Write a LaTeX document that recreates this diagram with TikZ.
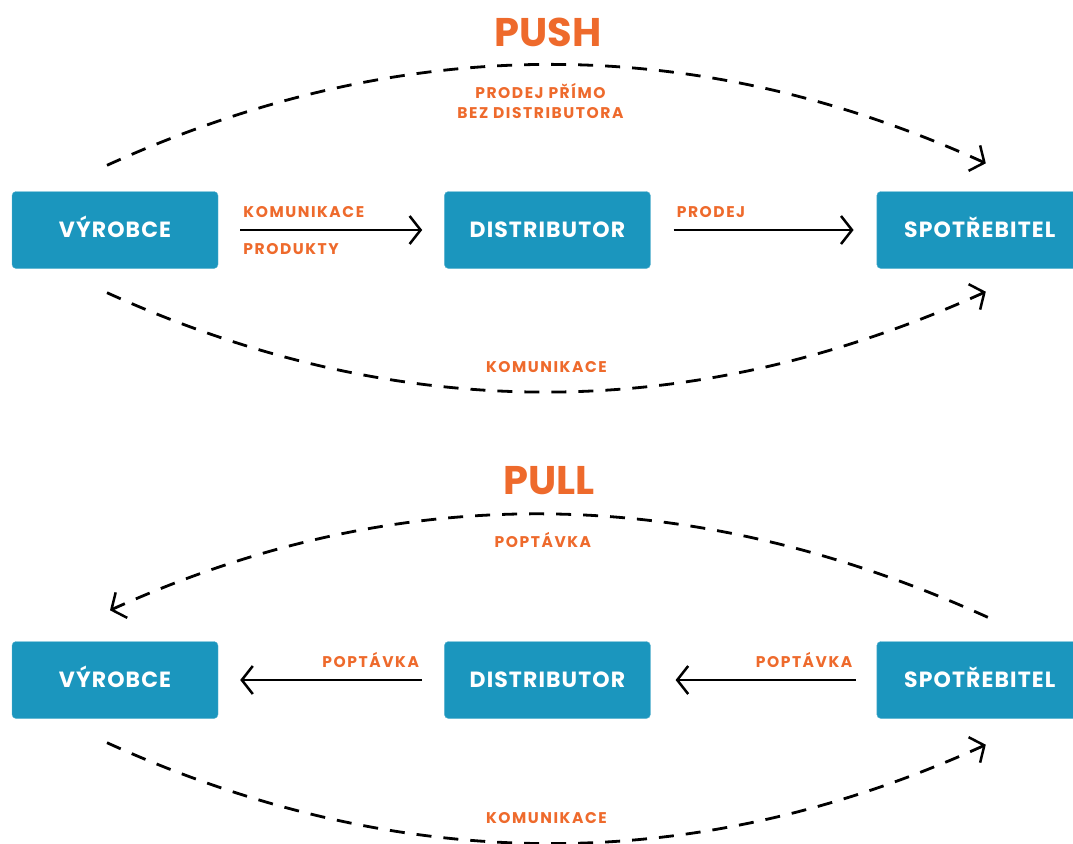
\documentclass[tikz,border=0pt]{standalone}
\usepackage{fontspec}
\setmainfont{Poppins}
\newfontfamily\boxfont{Poppins}[LetterSpace=5]
\newfontfamily\captionfont{Poppins}[LetterSpace=10]
\usetikzlibrary{positioning,arrows.meta}
\definecolor{boxblue}{RGB}{27,150,190}
\definecolor{labelorange}{RGB}{238,106,44}

\begin{document}
\begin{tikzpicture}
        [x=1pt,y=-1pt,
          element/.style={fill=boxblue, draw=boxblue!70!white, rounded corners=4pt, minimum width=206pt, minimum height=77pt,
            inner sep=0pt, text height=15pt, text depth=0pt, text=white, font=\boxfont\bfseries\fontsize{22}{24}\selectfont},
          caption/.style={text=labelorange, inner sep=0pt, font=\captionfont\bfseries\fontsize{15.5}{20}\selectfont},
          heading/.style={text=labelorange, inner sep=0pt, font=\bfseries\fontsize{40}{44}\selectfont},
          flow/.style={-{Straight Barb[length=11pt,width=28pt,line width=2.5pt]}, line width=2.5pt},
          loop/.style={flow, line width=2.8pt, dash pattern=on 15pt off 12pt},
          node distance=226pt]
        \useasboundingbox (0,0) rectangle (1073,843);

        % push
        \node[heading] (push) at (548,32) {PUSH};
        \node[element] (maker1) at (115,230) {VÝROBCE};
        \node[element,right=of maker1] (dist1) {DISTRIBUTOR};
        \node[element,right=of dist1] (cons1) {SPOTŘEBITEL};

        \draw[flow] ([xshift=22pt]maker1.east) -- ([xshift=-22pt]dist1.west)
          node[caption,pos=0,anchor=south west,yshift=11pt,xshift=2pt] {KOMUNIKACE}
          node[caption,pos=0,anchor=north west,yshift=-12pt,xshift=2pt] {PRODUKTY};
        \draw[flow] ([xshift=23pt]dist1.east) -- ([xshift=-23pt]cons1.west)
          node[caption,pos=0,anchor=south west,yshift=11pt,xshift=2pt] {PRODEJ};

        \draw[loop] ([yshift=26pt,xshift=-8pt]maker1.north) .. controls +(293,-133) and +(-293,-133) .. ([yshift=28pt,xshift=6pt]cons1.north)
          node[caption,pos=0.5,below=17pt,xshift=-6pt,align=center] {PRODEJ PŘÍMO\\BEZ DISTRIBUTORA};
        \draw[loop] ([yshift=-24pt,xshift=-8pt]maker1.south) .. controls +(293,133) and +(-293,133) .. ([yshift=-23pt,xshift=6pt]cons1.south)
          node[caption,pos=0.5,above=18pt] {KOMUNIKACE};

        % pull
        \node[heading] (pull) at (549,481) {PULL};
        \node[element] (maker2) at (115,680) {VÝROBCE};
        \node[element,right=of maker2] (dist2) {DISTRIBUTOR};
        \node[element,right=of dist2] (cons2) {SPOTŘEBITEL};

        \draw[flow] ([xshift=-22pt]dist2.west) -- ([xshift=22pt]maker2.east)
          node[caption,pos=0,anchor=south east,yshift=11pt,xshift=-2pt] {POPTÁVKA};
        \draw[flow] ([xshift=-21pt]cons2.west) -- ([xshift=25pt]dist2.east)
          node[caption,pos=0,anchor=south east,yshift=11pt,xshift=-2pt] {POPTÁVKA};

        \draw[loop] ([yshift=24pt,xshift=8pt]cons2.north) .. controls +(-293,-133) and +(293,-133) .. ([yshift=31pt,xshift=-5pt]maker2.north)
          node[caption,pos=0.5,below=17pt,xshift=-6pt] {POPTÁVKA};
        \draw[loop] ([yshift=-24pt,xshift=-8pt]maker2.south) .. controls +(293,133) and +(-293,133) .. ([yshift=-26pt,xshift=6pt]cons2.south)
          node[caption,pos=0.5,above=18pt] {KOMUNIKACE};
\end{tikzpicture}
\end{document}
